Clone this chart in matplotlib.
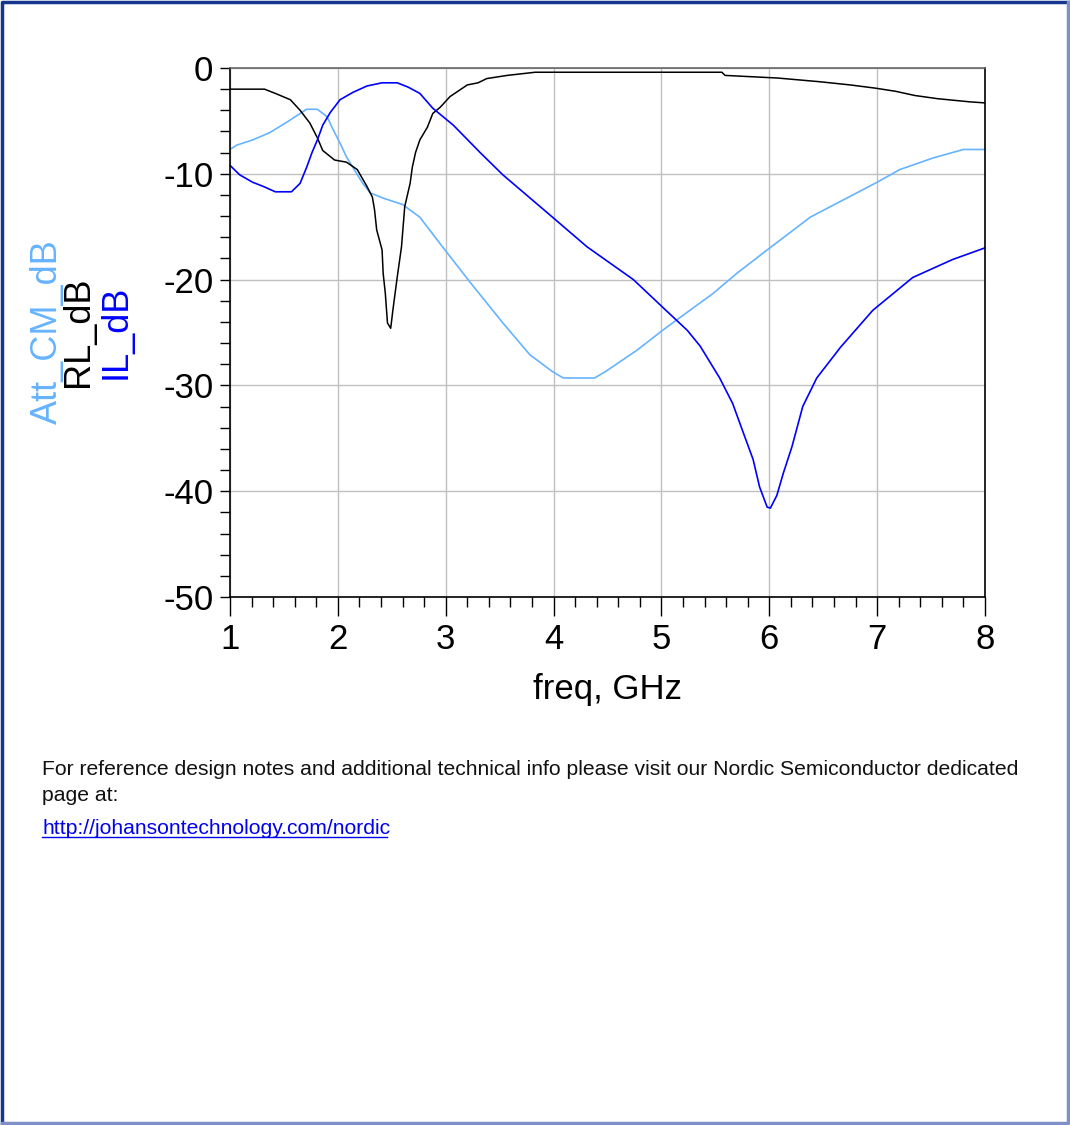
import numpy as np
import matplotlib
matplotlib.use('Agg')
import matplotlib.pyplot as plt
from matplotlib.lines import Line2D

plt.rcParams['font.family'] = ['Liberation Sans', 'DejaVu Sans']
plt.rcParams['axes.unicode_minus'] = False

# RL_dB (black)
rl_f = [1.0, 1.32, 1.42, 1.56, 1.65, 1.74, 1.81, 1.86, 1.97, 2.08, 2.18, 2.27,
        2.32, 2.34, 2.36, 2.41, 2.42, 2.44, 2.46, 2.49, 2.51, 2.55, 2.59, 2.62,
        2.67, 2.69, 2.72, 2.76, 2.83, 2.88, 2.95, 3.04, 3.20, 3.30, 3.38, 3.57,
        3.83, 5.56, 5.59, 6.08, 6.47, 6.75, 6.98, 7.17, 7.35, 7.56, 7.86, 8.0]
rl_db = [-2.0, -2.0, -2.4, -3.0, -4.0, -5.2, -6.6, -7.8, -8.7, -8.9, -9.6, -11.2,
         -12.2, -13.4, -15.3, -17.2, -19.4, -21.3, -24.1, -24.6, -22.9, -19.8, -16.9, -13.1,
         -10.9, -9.4, -8.0, -6.8, -5.6, -4.3, -3.7, -2.7, -1.6, -1.4, -1.0, -0.7,
         -0.4, -0.4, -0.7, -0.95, -1.3, -1.6, -1.9, -2.2, -2.6, -2.9, -3.2, -3.3]

# IL_dB (blue)
il_f = [1.0, 1.09, 1.21, 1.31, 1.42, 1.57, 1.65, 1.71, 1.76, 1.81, 1.86, 1.93,
        2.02, 2.14, 2.27, 2.41, 2.55, 2.65, 2.76, 2.88, 3.07, 3.32, 3.53, 3.99,
        4.31, 4.74, 5.01, 5.24, 5.36, 5.54, 5.66, 5.76, 5.85, 5.91, 5.98, 6.01,
        6.07, 6.13, 6.21, 6.31, 6.44, 6.66, 6.96, 7.33, 7.70, 8.0]
il_db = [-9.2, -10.1, -10.8, -11.2, -11.7, -11.7, -10.9, -9.4, -8.0, -6.8, -5.4, -4.2,
         -3.0, -2.3, -1.7, -1.4, -1.4, -1.8, -2.4, -3.8, -5.4, -8.0, -10.1, -14.1,
         -16.9, -20.0, -22.6, -24.8, -26.3, -29.3, -31.7, -34.5, -37.0, -39.6, -41.5, -41.6,
         -40.4, -38.3, -35.8, -32.0, -29.3, -26.4, -22.9, -19.8, -18.1, -17.0]

# Att_CM_dB (light blue)
att_f = [1.0, 1.06, 1.21, 1.37, 1.53, 1.65, 1.71, 1.81, 1.90, 1.95, 2.02, 2.08,
         2.14, 2.23, 2.30, 2.42, 2.60, 2.76, 2.97, 3.23, 3.53, 3.78, 3.99, 4.09,
         4.38, 4.48, 4.77, 5.01, 5.17, 5.48, 5.70, 5.98, 6.38, 6.68, 7.00, 7.21,
         7.52, 7.80, 8.0]
att_db = [-7.7, -7.3, -6.8, -6.1, -5.1, -4.3, -3.9, -3.9, -4.6, -5.7, -7.1, -8.4,
          -9.4, -10.9, -11.8, -12.3, -12.9, -14.1, -16.9, -20.3, -24.1, -27.1, -28.7, -29.3,
          -29.3, -28.7, -26.7, -24.8, -23.6, -21.3, -19.4, -17.2, -14.1, -12.5, -10.8, -9.6,
          -8.5, -7.7, -7.7]

x_ticks = [1, 2, 3, 4, 5, 6, 7, 8]
y_ticks = [0, -10, -20, -30, -40, -50]

fig = plt.figure(figsize=(10.7, 11.25), dpi=100)
ax = fig.add_axes([230/1070, 1-597/1125, 755/1070, 529/1125])

ax.plot(att_f, att_db, color='#66b3ff', lw=1.2)
ax.plot(rl_f, rl_db, color='black', lw=1.1)
ax.plot(il_f, il_db, color='#0000ff', lw=1.2)

ax.set_xlim(1, 8)
ax.set_ylim(-50, 0)
ax.set_xticks(x_ticks)
ax.set_yticks(y_ticks)
ax.set_xticks(np.arange(1, 8.01, 0.2), minor=True)
ax.set_yticks(np.arange(-50, 0.1, 2), minor=True)
ax.grid(True, which='major', color='#c0c0c0', lw=1)
ax.tick_params(axis='x', which='major', direction='out', length=14, width=1, pad=5, labelsize=25)
ax.tick_params(axis='x', which='minor', direction='out', length=7, width=1)
ax.tick_params(axis='y', which='major', direction='out', length=7, width=1, pad=5, labelsize=25)
ax.tick_params(axis='y', which='minor', direction='out', length=7, width=1)
for s in ['left', 'right', 'bottom']:
    ax.spines[s].set_color('black')
    ax.spines[s].set_linewidth(1.2)
ax.spines['top'].set_color('#666666')
ax.spines['top'].set_linewidth(1.2)

ax.set_xlabel('freq, GHz', fontsize=25, labelpad=12)

ymid = 1 - 332/1125
fig.text(47/1070, ymid, 'Att_CM_dB', color='#66b3ff', fontsize=26, rotation=90, ha='center', va='center')
fig.text(79/1070, ymid, 'RL_dB', color='black', fontsize=26, rotation=90, ha='center', va='center')
fig.text(116/1070, ymid, 'IL_dB', color='#0000ff', fontsize=26, rotation=90, ha='center', va='center')

fig.text(42/1070, 1-775/1125, 'For reference design notes and additional technical info please visit our '
         'Nordic Semiconductor dedicated', fontsize=15.2, color='#111111', va='baseline')
fig.text(42/1070, 1-801/1125, 'page at:', fontsize=15.2, color='#111111', va='baseline')
url = fig.text(42/1070, 1-834/1125, 'http://johansontechnology.com/nordic', fontsize=15.2,
               color='#0000ee', va='baseline')

# underline the link
fig.canvas.draw()
bb = url.get_window_extent().transformed(fig.transFigure.inverted())
uy = 1 - 837/1125
fig.add_artist(Line2D([bb.x0, bb.x1 - 3/1070], [uy, uy], color='#0000ee', lw=1, transform=fig.transFigure))

# page border
fig.add_artist(Line2D([0.002, 0.002, 0.998], [0.002, 0.998, 0.998], color='#15358f', lw=2.5,
                      transform=fig.transFigure))
fig.add_artist(Line2D([0.998, 0.998, 0.002], [0.998, 0.002, 0.002], color='#7f8fc8', lw=2.5,
                      transform=fig.transFigure))

fig.savefig('out.png', dpi=100)
